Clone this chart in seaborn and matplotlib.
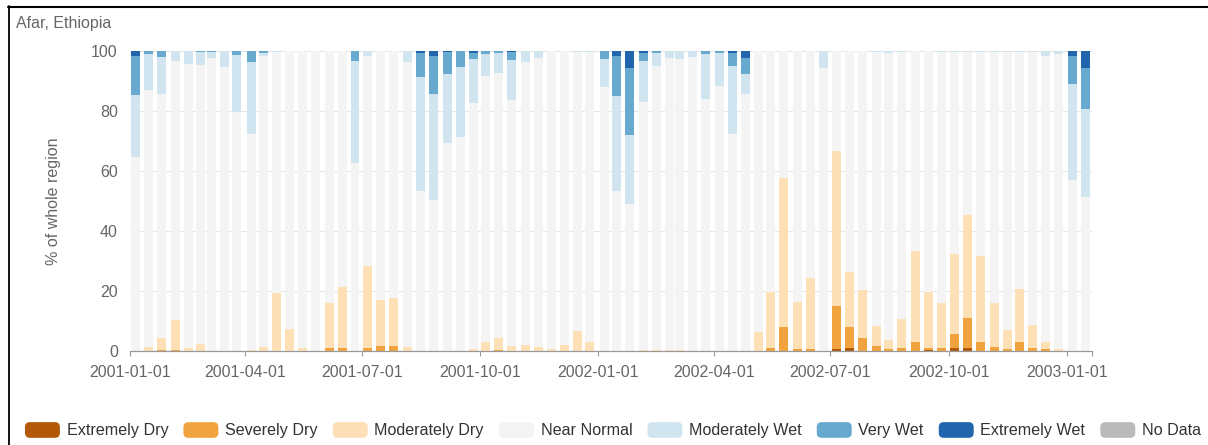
import numpy as np
import pandas as pd
import matplotlib
matplotlib.use("Agg")
import matplotlib.pyplot as plt
import matplotlib.dates as mdates
from matplotlib.lines import Line2D
from matplotlib.patches import Patch, FancyBboxPatch
from matplotlib.legend_handler import HandlerPatch
import seaborn as sns

# ---------------- data ----------------
title = "Afar, Ethiopia"
y_label = "% of whole region"

# dekad (10-day period) start dates
dekads = [pd.Timestamp(y, m, d) for y in (2001, 2002) for m in range(1, 13) for d in (1, 11, 21)]
dekads += [pd.Timestamp(2003, 1, 1), pd.Timestamp(2003, 1, 11)]
axis_end = pd.Timestamp(2003, 1, 21)

tick_dates = ["2001-01-01", "2001-04-01", "2001-07-01", "2001-10-01", "2002-01-01",
              "2002-04-01", "2002-07-01", "2002-10-01", "2003-01-01"]

categories = ["Extremely Dry", "Severely Dry", "Moderately Dry", "Near Normal",
              "Moderately Wet", "Very Wet", "Extremely Wet", "No Data"]
colors = ["#b35806", "#f1a340", "#fee0b6", "#f4f4f4",
          "#d1e5f0", "#67a9cf", "#2166ac", "#bababa"]

extremely_dry = [0, 0, 0, 0, 0, 0, 0, 0, 0, 0,
                 0, 0, 0, 0, 0, 0, 0, 0, 0, 0,
                 0, 0, 0, 0, 0, 0, 0, 0, 0, 0,
                 0, 0, 0, 0, 0, 0, 0, 0, 0, 0,
                 0, 0, 0, 0, 0, 0, 0, 0, 0, 0,
                 0, 0, 0, 0, 0.6, 0.9, 0, 0, 0, 0,
                 0, 0.3, 0, 0.9, 1.1, 0, 0, 0, 0, 0,
                 0, 0, 0, 0]
severely_dry = [0, 0, 0.3, 0.5, 0, 0, 0, 0, 0, 0,
                0, 0, 0, 0, 0, 1.1, 1.1, 0, 1.1, 1.7,
                1.7, 0, 0, 0, 0, 0, 0, 0, 0.3, 0,
                0, 0, 0, 0, 0, 0, 0, 0, 0, 0,
                0, 0, 0, 0, 0, 0, 0, 0, 0, 0.9,
                8.0, 0.7, 0.7, 0, 14.4, 7.1, 4.4, 1.7, 0.7, 0.9,
                3.0, 0.8, 1.1, 4.9, 9.8, 3.0, 1.4, 0.7, 3.0, 0.9,
                0.7, 0, 0, 0]
moderately_dry = [0, 1.3, 3.9, 9.9, 1.1, 2.2, 0, 0, 0, 0.2,
                  1.3, 19.3, 7.2, 1.1, 0, 14.8, 20.2, 0, 27.3, 15.4,
                  15.9, 1.2, 0, 0, 0, 0, 0.7, 3.1, 3.9, 1.7,
                  2.0, 1.3, 0.8, 2.1, 6.8, 2.9, 0, 0, 0, 0.3,
                  0.3, 0.3, 0.2, 0, 0, 0, 0, 0, 6.2, 18.9,
                  49.8, 15.6, 23.5, 0, 51.7, 18.3, 15.9, 6.5, 2.9, 9.8,
                  30.3, 18.6, 14.8, 26.4, 34.4, 28.8, 14.7, 6.4, 17.8, 7.8,
                  2.3, 0.7, 0, 0]
near_normal = [64.8, 85.7, 81.6, 86.3, 94.5, 93.1, 97.6, 94.8, 79.7, 72.2,
               96.9, 80.2, 92.8, 98.9, 100, 84.1, 78.7, 62.8, 70.0, 82.9,
               82.4, 95.0, 53.3, 50.2, 69.4, 71.4, 82.1, 88.7, 88.4, 82.0,
               94.2, 96.3, 99.2, 97.9, 92.8, 96.7, 88.0, 53.3, 48.9, 82.7,
               94.6, 97.5, 97.2, 98.1, 84.0, 88.3, 72.4, 85.6, 93.8, 80.2,
               42.2, 83.7, 75.8, 94.4, 33.3, 73.7, 79.7, 91.3, 95.8, 89.0,
               66.7, 80.3, 83.6, 67.5, 54.4, 67.9, 83.6, 92.6, 78.9, 91.0,
               95.4, 98.3, 57.1, 51.4]
moderately_wet = [20.7, 12.0, 12.2, 3.3, 4.4, 4.2, 2.1, 5.2, 18.8, 24.0,
                  1.1, 0.5, 0, 0, 0, 0, 0, 34.0, 1.6, 0,
                  0, 3.8, 37.9, 35.4, 22.8, 23.2, 14.5, 7.3, 6.6, 13.2,
                  3.8, 2.4, 0, 0, 0.4, 0.4, 9.5, 31.7, 23.1, 13.7,
                  4.3, 2.2, 2.6, 1.9, 15.1, 10.9, 22.7, 6.7, 0, 0,
                  0, 0, 0, 5.6, 0, 0, 0, 0.5, 0.6, 0.3,
                  0, 0, 0.5, 0.3, 0.2, 0.2, 0.2, 0.2, 0.3, 0.3,
                  1.6, 1.0, 31.9, 29.4]
very_wet = [13.0, 1.0, 2.0, 0, 0, 0.5, 0.3, 0, 1.5, 3.6,
            0.7, 0, 0, 0, 0, 0, 0, 3.2, 0, 0,
            0, 0, 8.1, 12.7, 7.4, 5.4, 2.1, 0.9, 0.8, 2.7,
            0, 0, 0, 0, 0, 0, 2.5, 13.4, 22.4, 2.5,
            0.8, 0, 0, 0, 0.9, 0.8, 4.1, 5.5, 0, 0,
            0, 0, 0, 0, 0, 0, 0, 0, 0, 0,
            0, 0, 0, 0, 0.1, 0.1, 0.1, 0.1, 0, 0,
            0, 0, 9.4, 13.4]
extremely_wet = [1.5, 0, 0, 0, 0, 0, 0, 0, 0, 0,
                 0, 0, 0, 0, 0, 0, 0, 0, 0, 0,
                 0, 0, 0.7, 1.7, 0.4, 0, 0.6, 0, 0, 0.4,
                 0, 0, 0, 0, 0, 0, 0, 1.6, 5.6, 0.8,
                 0, 0, 0, 0, 0, 0, 0.8, 2.2, 0, 0,
                 0, 0, 0, 0, 0, 0, 0, 0, 0, 0,
                 0, 0, 0, 0, 0, 0, 0, 0, 0, 0,
                 0, 0, 1.6, 5.8]

series = {
    "Extremely Dry": extremely_dry,
    "Severely Dry": severely_dry,
    "Moderately Dry": moderately_dry,
    "Near Normal": near_normal,
    "Moderately Wet": moderately_wet,
    "Very Wet": very_wet,
    "Extremely Wet": extremely_wet,
}

# ---------------- build long table ----------------
starts = mdates.date2num(dekads)
x_pos = starts + 4.6
df = pd.DataFrame({
    "x": np.tile(x_pos, len(series)),
    "category": np.repeat(list(series.keys()), len(dekads)),
    "value": np.concatenate([np.asarray(v, float) for v in series.values()]),
})
# each bar is its own bin; gaps between bars are empty bins
edges = np.sort(np.concatenate([starts + 1.1, starts + 8.1])).tolist()
palette = dict(zip(categories, colors))

# ---------------- style ----------------
sns.set_theme(style="white")
plt.rcParams["font.family"] = ["Liberation Sans", "DejaVu Sans"]

W, H = 1208, 445
fig = plt.figure(figsize=(W / 100, H / 100), dpi=100)
x0, x1 = 129.6, 1092.3
y0, y1 = 351, 51
ax = fig.add_axes([x0 / W, 1 - y0 / H, (x1 - x0) / W, (y0 - y1) / H])

stack_order = list(series.keys())[::-1]  # first level is drawn on top
sns.histplot(data=df, x="x", weights="value", hue="category", hue_order=stack_order,
             palette=palette, multiple="stack", bins=edges, stat="count",
             alpha=1, linewidth=0, edgecolor="none", legend=False, ax=ax)

# axes
ax.set_xlim(mdates.date2num(dekads[0]), mdates.date2num(axis_end))
ax.set_ylim(0, 100)
ax.set_yticks([0, 20, 40, 60, 80, 100])
xt = list(mdates.date2num(pd.to_datetime(tick_dates))) + [mdates.date2num(axis_end)]
ax.set_xticks(xt)
ax.set_xticklabels(tick_dates + [""])
ax.set_xlabel("")
ax.set_ylabel(y_label, fontsize=11.5, color="#666666", va="center")
ax.yaxis.set_label_coords((53.3 - x0) / (x1 - x0), 0.5)

ax.set_axisbelow(True)
ax.yaxis.grid(True, color="#e6e6e6", linewidth=0.75)
ax.xaxis.grid(False)
for s in ("top", "right", "left"):
    ax.spines[s].set_visible(False)
ax.spines["bottom"].set_color("#999999")
ax.spines["bottom"].set_linewidth(0.9)
ax.tick_params(axis="x", length=3.6, width=0.8, color="#999999", labelsize=11.5,
               labelcolor="#666666", pad=6.5, bottom=True)
ax.tick_params(axis="y", length=0, labelsize=11.5, labelcolor="#666666", pad=8.5)

# title
fig.text(16 / W, 1 - 27.8 / H, title, ha="left", va="baseline", fontsize=11.5, color="#666666")

# frame lines (top and left)
fig.add_artist(Line2D([8 / W, 1], [1 - 6.7 / H] * 2, color="black", lw=1.5,
                      transform=fig.transFigure))
fig.add_artist(Line2D([9 / W] * 2, [0, 1 - 6.0 / H], color="black", lw=1.3,
                      transform=fig.transFigure))


# legend with rounded swatches
class RoundHandler(HandlerPatch):
    def create_artists(self, legend, orig_handle, xdescent, ydescent, width, height,
                       fontsize, trans):
        p = FancyBboxPatch((-xdescent, -ydescent), width, height,
                           boxstyle="round,pad=0,rounding_size=3.6",
                           facecolor=orig_handle.get_facecolor(), edgecolor="none",
                           transform=trans)
        return [p]


handles = [Patch(facecolor=c, label=l) for l, c in zip(categories, colors)]
fig.legend(handles=handles, loc="center", bbox_to_anchor=(613 / W, 1 - 430.3 / H), ncol=8,
           frameon=False, fontsize=11.6, labelcolor="#333333", handlelength=2.17,
           handleheight=1.12, handletextpad=0.42, columnspacing=0.93, borderaxespad=0,
           borderpad=0, handler_map={Patch: RoundHandler()})

fig.savefig("out.png", dpi=100)
